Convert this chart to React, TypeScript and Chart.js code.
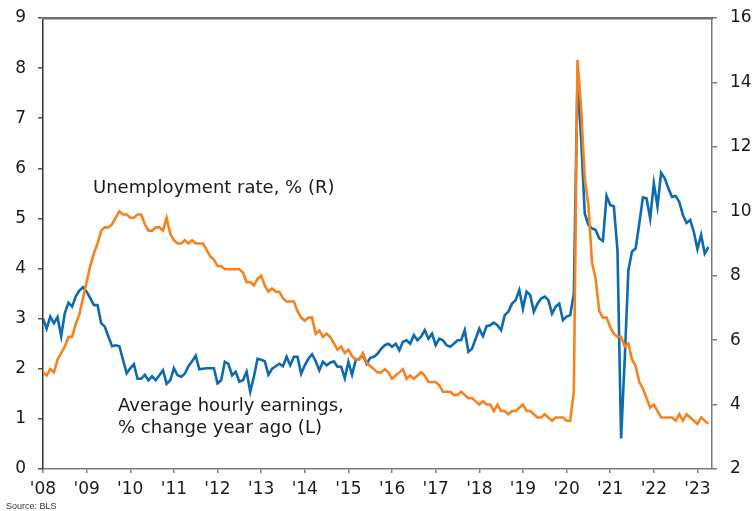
import React, { useEffect, useRef } from "react";
import { Chart, registerables } from "chart.js";

Chart.register(...registerables);

// Tick labels for the x axis (one per January)
const yearLabels = ["'08", "'09", "'10", "'11", "'12", "'13", "'14", "'15", "'16", "'17", "'18", "'19", "'20", "'21", "'22", "'23"];

// Unemployment rate, % (right axis), monthly Jan 2008 - Apr 2023
const unemploymentRate = [
  5.0, 4.9, 5.1, 5.0, 5.4, 5.6, 5.8, 6.1, 6.1, 6.5, 6.8, 7.3,
  7.8, 8.3, 8.7, 9.0, 9.4, 9.5, 9.5, 9.6, 9.8, 10.0, 9.9, 9.9,
  9.8, 9.8, 9.9, 9.9, 9.6, 9.4, 9.4, 9.5, 9.5, 9.4, 9.8, 9.3,
  9.1, 9.0, 9.0, 9.1, 9.0, 9.1, 9.0, 9.0, 9.0, 8.8, 8.6, 8.5,
  8.3, 8.3, 8.2, 8.2, 8.2, 8.2, 8.2, 8.1, 7.8, 7.8, 7.7, 7.9,
  8.0, 7.7, 7.5, 7.6, 7.5, 7.5, 7.3, 7.2, 7.2, 7.2, 6.9, 6.7,
  6.6, 6.7, 6.7, 6.2, 6.3, 6.1, 6.2, 6.1, 5.9, 5.7, 5.8, 5.6,
  5.7, 5.5, 5.4, 5.4, 5.6, 5.3, 5.2, 5.1, 5.0, 5.0, 5.1, 5.0,
  4.8, 4.9, 5.0, 5.1, 4.8, 4.9, 4.8, 4.9, 5.0, 4.9, 4.7, 4.7,
  4.7, 4.6, 4.4, 4.4, 4.4, 4.3, 4.3, 4.4, 4.3, 4.2, 4.2, 4.1,
  4.0, 4.1, 4.0, 4.0, 3.8, 4.0, 3.8, 3.8, 3.7, 3.8, 3.8, 3.9,
  4.0, 3.8, 3.8, 3.7, 3.6, 3.6, 3.7, 3.6, 3.5, 3.6, 3.6, 3.6,
  3.5, 3.5, 4.4, 14.7, 13.2, 11.0, 10.2, 8.4, 7.9, 6.9, 6.7, 6.7,
  6.4, 6.2, 6.1, 6.1, 5.8, 5.9, 5.4, 5.2, 4.7, 4.5, 4.2, 3.9,
  4.0, 3.8, 3.6, 3.6, 3.6, 3.6, 3.5, 3.7, 3.5, 3.7, 3.6, 3.5,
  3.4, 3.6, 3.5, 3.4,
];

// Average hourly earnings, % change year ago (left axis), monthly Jan 2008 - Apr 2023
const hourlyEarnings = [
  3.0, 2.8, 3.04, 2.91, 3.03, 2.65, 3.11, 3.32, 3.24, 3.44, 3.56, 3.63,
  3.54, 3.41, 3.27, 3.27, 2.91, 2.84, 2.64, 2.45, 2.47, 2.45, 2.18, 1.91,
  2.01, 2.09, 1.8, 1.8, 1.88, 1.77, 1.85, 1.77, 1.87, 1.97, 1.7, 1.77,
  2.01, 1.87, 1.84, 1.9, 2.05, 2.15, 2.26, 1.99, 2.0, 2.01, 2.01, 2.01,
  1.71, 1.77, 2.14, 2.1, 1.87, 1.94, 1.74, 1.77, 1.94, 1.54, 1.84, 2.2,
  2.18, 2.15, 1.88, 2.0, 2.05, 2.1, 2.05, 2.24, 2.07, 2.24, 2.24, 1.9,
  2.07, 2.2, 2.29, 2.15, 1.97, 2.14, 2.07, 2.12, 2.15, 2.04, 2.04, 1.81,
  2.14, 1.88, 2.17, 2.2, 2.27, 2.1, 2.22, 2.24, 2.3, 2.4, 2.47, 2.5,
  2.44, 2.5, 2.37, 2.54, 2.57, 2.5, 2.67, 2.57, 2.64, 2.77, 2.6, 2.7,
  2.47, 2.6, 2.57, 2.47, 2.44, 2.5, 2.57, 2.57, 2.77, 2.34, 2.4, 2.6,
  2.8, 2.65, 2.85, 2.87, 2.92, 2.87, 2.77, 3.07, 3.14, 3.3, 3.37, 3.57,
  3.2, 3.54, 3.47, 3.14, 3.3, 3.4, 3.44, 3.37, 3.1, 3.24, 3.3, 2.97,
  3.04, 3.07, 3.5, 7.8, 6.6, 5.1, 4.87, 4.8, 4.77, 4.6, 4.55, 5.45,
  5.27, 5.24, 4.37, 0.61, 2.2, 3.97, 4.34, 4.4, 4.9, 5.42, 5.4, 5.0,
  5.7, 5.24, 5.91, 5.8, 5.6, 5.43, 5.45, 5.33, 5.07, 4.91, 4.97, 4.73,
  4.39, 4.67, 4.3, 4.43,
];

const unemploymentLabel = "Unemployment rate, % (R)";
const earningsLabel = ["Average hourly earnings,", "% change year ago (L)"];
const sourceLabel = "Source: BLS";

const FONT = '"DejaVu Sans", Verdana, sans-serif';
const ORANGE = "#F5821F";
const BLUE = "#0B6BAE";
const TEXT = "#1a1a1a";
const FRAME = "#7a7a7a";

const annotationPlugin = {
  id: "annotationPlugin",
  afterDraw(chart: any) {
    const ctx = chart.ctx;
    const area = chart.chartArea;
    ctx.save();
    // top frame of the plot area
    ctx.fillStyle = "#707070";
    ctx.fillRect(area.left - 1, area.top - 1, area.right - area.left + 2, 2.5);

    ctx.fillStyle = TEXT;
    ctx.font = `18px ${FONT}`;
    ctx.textAlign = "left";
    ctx.textBaseline = "middle";
    ctx.fillText(unemploymentLabel, 93, 188);
    ctx.fillText(earningsLabel[0], 118, 406);
    ctx.fillText(earningsLabel[1], 118, 428);

    ctx.font = `9px "Liberation Sans", Arial, sans-serif`;
    ctx.fillStyle = "#333";
    ctx.textBaseline = "alphabetic";
    ctx.fillText(sourceLabel, 6, 509);
    ctx.restore();
  },
};

export default function App() {
  const canvasRef = useRef<HTMLCanvasElement | null>(null);

  useEffect(() => {
    document.body.style.margin = "0";
    const canvas = canvasRef.current;
    if (!canvas) return;

    const orangePts = unemploymentRate.map((v, i) => ({ x: i, y: v }));
    const bluePts = hourlyEarnings.map((v, i) => ({ x: i, y: v }));

    const chart = new Chart(canvas, {
      type: "line",
      data: {
        datasets: [
          {
            label: unemploymentLabel,
            data: orangePts,
            yAxisID: "yR",
            borderColor: ORANGE,
            borderWidth: 2.6,
            pointRadius: 0,
            tension: 0,
            order: 0,
          },
          {
            label: earningsLabel.join(" "),
            data: bluePts,
            yAxisID: "yL",
            borderColor: BLUE,
            borderWidth: 2.6,
            pointRadius: 0,
            tension: 0,
            order: 1,
          },
        ],
      },
      options: {
        animation: false,
        responsive: true,
        maintainAspectRatio: false,
        layout: { padding: { top: 18, left: 0, right: 0, bottom: 0 } },
        plugins: {
          legend: { display: false },
          tooltip: { enabled: false },
        },
        scales: {
          x: {
            type: "linear",
            min: 0,
            max: unemploymentRate.length,
            grid: {
              display: true,
              drawOnChartArea: false,
              drawTicks: true,
              tickLength: 4,
              tickColor: FRAME,
              lineWidth: 1.5,
            },
            border: { display: true, color: FRAME, width: 1.5 },
            ticks: {
              autoSkip: false,
              maxRotation: 0,
              padding: 6,
              color: TEXT,
              font: { family: FONT, size: 17 },
              callback: (v: any) => yearLabels[Math.round(Number(v) / 12)] ?? "",
            },
            afterBuildTicks: (s: any) => {
              s.ticks = yearLabels.map((_, k) => ({ value: k * 12 }));
            },
            afterFit: (s: any) => {
              s.height = 42;
              s.paddingLeft = 0;
              s.paddingRight = 0;
            },
          },
          yL: {
            type: "linear",
            position: "left",
            min: 0,
            max: 9,
            grid: {
              display: true,
              drawOnChartArea: false,
              drawTicks: true,
              tickLength: 5,
              tickColor: "#555",
              lineWidth: 1.5,
            },
            border: { display: true, color: "#333", width: 1.5 },
            ticks: {
              stepSize: 1,
              padding: 12,
              color: TEXT,
              font: { family: FONT, size: 17 },
            },
            afterFit: (s: any) => {
              s.width = 43;
              s.paddingTop = 0;
              s.paddingBottom = 0;
            },
          },
          yR: {
            type: "linear",
            position: "right",
            min: 2,
            max: 16,
            grid: {
              display: true,
              drawOnChartArea: false,
              drawTicks: true,
              tickLength: 5,
              tickColor: FRAME,
              lineWidth: 1.5,
            },
            border: { display: true, color: FRAME, width: 1.5 },
            ticks: {
              stepSize: 2,
              padding: 13,
              color: TEXT,
              font: { family: FONT, size: 17 },
            },
            afterFit: (s: any) => {
              s.width = 42;
              s.paddingTop = 0;
              s.paddingBottom = 0;
            },
          },
        },
      },
      plugins: [annotationPlugin],
    });

    return () => chart.destroy();
  }, []);

  return (
    <div style={{ position: "relative", width: 754, height: 511, background: "#fff" }}>
      <canvas ref={canvasRef} />
    </div>
  );
}
